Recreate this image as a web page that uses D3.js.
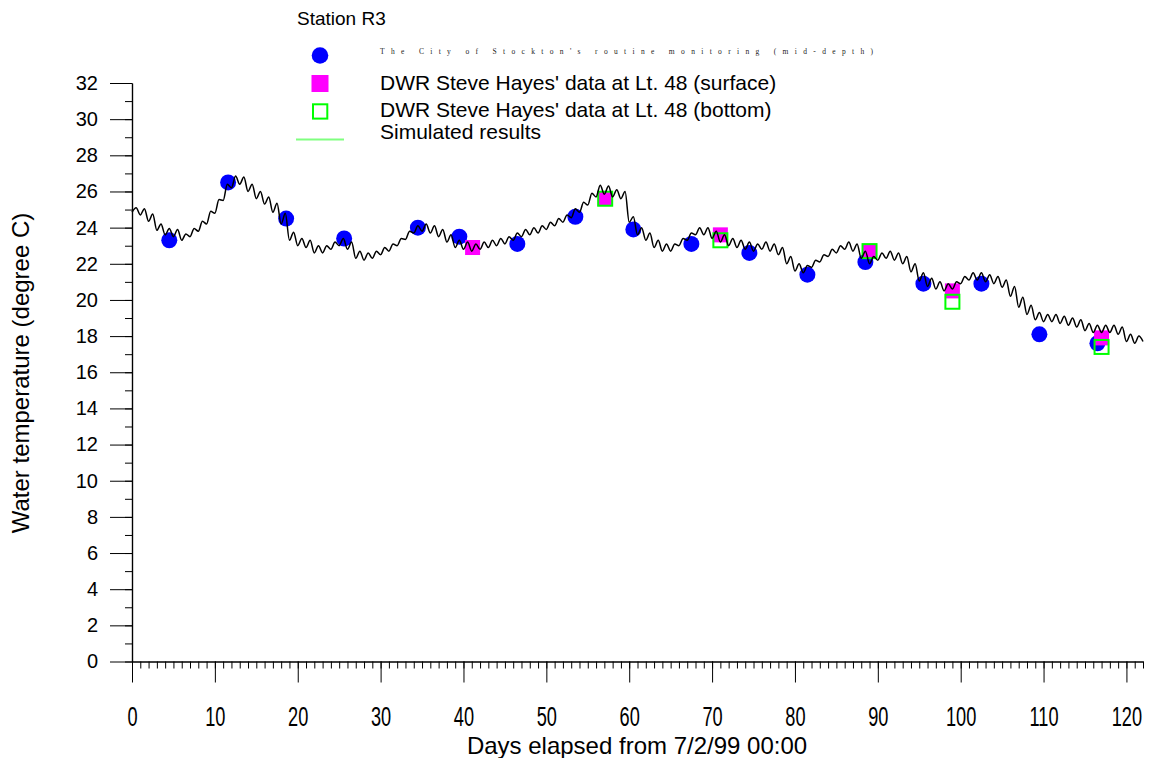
<!DOCTYPE html>
<html>
<head>
<meta charset="utf-8">
<script src="https://cdn.jsdelivr.net/npm/d3@7"></script>
<style>
  html, body { margin: 0; padding: 0; background: #fff; }
  svg { display: block; font-family: "Liberation Sans", Arial, sans-serif; }
</style>
</head>
<body>
<svg id="chart" width="1156" height="758"></svg>
<script>
// Station R3 water temperature, days elapsed from 7/2/99 00:00

// City of Stockton routine monitoring (mid-depth)
const stocktonDays = [4.5, 11.6, 18.6, 25.6, 34.5, 39.5, 46.5, 53.5, 60.5, 67.5, 74.5, 81.5, 88.5, 95.5, 102.5, 109.5, 116.5];
const stocktonTemp = [23.3, 26.5, 24.5, 23.4, 24.0, 23.5, 23.1, 24.6, 23.9, 23.1, 22.6, 21.4, 22.1, 20.9, 20.9, 18.1, 17.6];

// DWR Steve Hayes' data at Lt. 48
const surfaceDays = [41.1, 57.1, 71.0, 89.0, 99.0, 117.0];
const surfaceTemp = [22.9, 25.6, 23.6, 22.7, 20.5, 17.9];
const bottomDays = [57.1, 71.0, 89.0, 99.0, 117.0];
const bottomTemp = [25.6, 23.3, 22.7, 19.9, 17.4];

// Simulated results, sampled every half day from day 0 (daily low, then daily high)
const simStep = 0.5;
const simTemp = [
  24.85, 25.1,  24.7, 25.05,  24.35, 24.75, 23.85, 24.2,  23.6, 23.95,
  23.5, 23.9,   23.3, 23.65,  23.5, 23.95,  23.8, 24.35,  24.2, 24.9,
  24.8, 25.55,  25.5, 26.4,   26.2, 26.85,  26.4, 26.8,   26.0, 26.4,
  25.6, 26.0,   25.3, 25.7,   24.85, 25.35, 24.2, 24.8,   23.3, 23.75,
  23.0, 23.4,   22.9, 23.3,   22.6, 23.0,   22.6, 23.0,   22.8, 23.2,
  23.0, 23.4,   22.8, 23.2,   22.3, 22.7,   22.2, 22.6,   22.3, 22.7,
  22.5, 22.9,   22.7, 23.1,   23.0, 23.4,   23.35, 23.8,  23.7, 24.1,
  23.8, 24.2,   23.7, 24.1,   23.5, 23.9,   23.2, 23.6,   22.9, 23.3,
  22.8, 23.2,   22.7, 23.1,   22.8, 23.2,   22.9, 23.3,   23.0, 23.4,
  23.1, 23.5,   23.3, 23.7,   23.5, 23.9,   23.6, 24.0,   23.7, 24.1,
  23.9, 24.3,   24.1, 24.5,   24.3, 24.7,   24.55, 25.05, 24.85, 25.4,
  25.25, 25.9,  25.7, 26.35,  25.85, 26.3,  25.7, 26.1,   25.6, 26.0,
  24.3, 24.6,   23.6, 24.0,   23.3, 23.7,   22.9, 23.3,   22.7, 23.1,
  22.7, 23.1,   23.0, 23.4,   23.3, 23.7,   23.6, 24.0,   23.6, 24.0,
  23.4, 23.8,   23.2, 23.6,   23.0, 23.4,   22.9, 23.3,   22.8, 23.2,
  22.7, 23.1,   22.8, 23.2,   22.7, 23.1,   22.5, 22.9,   22.0, 22.4,
  21.6, 22.0,   21.5, 21.9,   21.8, 22.2,   22.1, 22.5,   22.4, 22.8,
  22.6, 23.0,   22.8, 23.2,   22.7, 23.1,   22.3, 22.7,   22.0, 22.4,
  22.2, 22.6,   22.3, 22.7,   22.2, 22.6,   22.0, 22.4,   21.55, 22.0,
  21.05, 21.5,  20.75, 21.2,  20.6, 21.0,   20.5, 20.9,   20.6, 21.0,
  20.9, 21.3,   21.1, 21.5,   21.1, 21.5,   21.0, 21.4,   20.9, 21.3,
  20.7, 21.1,   20.2, 20.75,  19.6, 20.15,  19.2, 19.7,   18.9, 19.3,
  18.8, 19.2,   18.8, 19.2,   18.7, 19.1,   18.6, 19.0,   18.5, 18.9,
  18.3, 18.7,   18.2, 18.6,   18.2, 18.6,   18.2, 18.6,   18.1, 18.5,
  17.7, 18.1,   17.6, 18.0,   17.7
];

// Axis ticks
const xMajorTicks = [0, 10, 20, 30, 40, 50, 60, 70, 80, 90, 100, 110, 120];
const yMajorTicks = [0, 2, 4, 6, 8, 10, 12, 14, 16, 18, 20, 22, 24, 26, 28, 30, 32];

// Text
const stationTitle = "Station R3";
const legendLabels = [
  "The City of Stockton's routine monitoring (mid-depth)",
  "DWR Steve Hayes' data at Lt. 48 (surface)",
  "DWR Steve Hayes' data at Lt. 48 (bottom)",
  "Simulated results"
];
const xTitle = "Days elapsed from 7/2/99 00:00";
const yTitle = "Water temperature (degree C)";

const svg = d3.select("#chart");

const x = d3.scaleLinear().domain([0, 122]).range([132, 1143]);
const y = d3.scaleLinear().domain([0, 32]).range([661.5, 83]);

// ---- axes ----
const xMinor = d3.axisBottom(x).tickValues(d3.range(0, 123, 1)).tickSize(7).tickFormat("").tickSizeOuter(0);
const xMajor = d3.axisBottom(x).tickValues(xMajorTicks).tickSize(21).tickPadding(24).tickSizeOuter(0);
const yMinor = d3.axisLeft(y).tickValues(d3.range(0, 33, 1)).tickSize(7).tickFormat("").tickSizeOuter(0);
const yMajor = d3.axisLeft(y).tickValues(yMajorTicks).tickSize(22).tickPadding(12).tickSizeOuter(0);

function styleAxis(g) {
  g.selectAll("path.domain").attr("stroke", "#000").attr("stroke-width", 1.2);
  g.selectAll(".tick line").attr("stroke", "#000").attr("stroke-width", 1);
}

const gx0 = svg.append("g").attr("transform", `translate(0,${y(0)})`).call(xMinor);
styleAxis(gx0);
const gx1 = svg.append("g").attr("transform", `translate(0,${y(0)})`).call(xMajor);
styleAxis(gx1);
gx1.selectAll(".tick text")
  .attr("fill", "#000")
  .attr("font-size", 28)
  .attr("font-family", "Liberation Sans, Arial, sans-serif")
  .attr("transform", "scale(0.65,1)");

const gy0 = svg.append("g").attr("transform", `translate(${x(0)},0)`).call(yMinor);
styleAxis(gy0);
const gy1 = svg.append("g").attr("transform", `translate(${x(0)},0)`).call(yMajor);
styleAxis(gy1);
gy1.selectAll(".tick text")
  .attr("fill", "#000")
  .attr("font-size", 20)
  .attr("font-family", "Liberation Sans, Arial, sans-serif");

// axis titles
svg.append("text")
  .attr("x", 637).attr("y", 754)
  .attr("text-anchor", "middle")
  .attr("font-size", 24)
  .attr("fill", "#000")
  .text(xTitle);

svg.append("text")
  .attr("transform", "translate(29,373) rotate(-90)")
  .attr("text-anchor", "middle")
  .attr("font-size", 24)
  .attr("fill", "#000")
  .text(yTitle);

// ---- data marks ----
const plot = svg.append("g");

plot.selectAll("circle.stockton")
  .data(stocktonDays.map((d, i) => ({ d, t: stocktonTemp[i] })))
  .join("circle")
  .attr("class", "stockton")
  .attr("cx", p => x(p.d))
  .attr("cy", p => y(p.t))
  .attr("r", 8)
  .attr("fill", "#0000ff");

const sq = 15;
plot.selectAll("rect.surface")
  .data(surfaceDays.map((d, i) => ({ d, t: surfaceTemp[i] })))
  .join("rect")
  .attr("class", "surface")
  .attr("x", p => x(p.d) - sq / 2)
  .attr("y", p => y(p.t) - sq / 2)
  .attr("width", sq).attr("height", sq)
  .attr("fill", "#ff00ff");

plot.selectAll("rect.bottom")
  .data(bottomDays.map((d, i) => ({ d, t: bottomTemp[i] })))
  .join("rect")
  .attr("class", "bottom")
  .attr("x", p => x(p.d) - 7)
  .attr("y", p => y(p.t) - 7)
  .attr("width", 14).attr("height", 14)
  .attr("fill", "none")
  .attr("stroke", "#00ff00")
  .attr("stroke-width", 2);

const simLine = d3.line()
  .x((t, i) => x(i * simStep))
  .y(t => y(t))
  .curve(d3.curveMonotoneX);

plot.append("path")
  .datum(simTemp)
  .attr("d", simLine)
  .attr("fill", "none")
  .attr("stroke", "#000")
  .attr("stroke-width", 1.5)
  .attr("stroke-linejoin", "round");

// ---- legend ----
const legend = svg.append("g");
legend.append("text")
  .attr("x", 297).attr("y", 25)
  .attr("font-size", 19).attr("fill", "#000")
  .text(stationTitle);

legend.append("circle").attr("cx", 320).attr("cy", 55.5).attr("r", 8.3).attr("fill", "#0000ff");
legend.append("rect").attr("x", 311.5).attr("y", 75).attr("width", 17).attr("height", 17).attr("fill", "#ff00ff");
legend.append("rect").attr("x", 313).attr("y", 104.3).attr("width", 14.3).attr("height", 14.3)
  .attr("fill", "none").attr("stroke", "#00ff00").attr("stroke-width", 2);
legend.append("line").attr("x1", 296).attr("x2", 344).attr("y1", 139.5).attr("y2", 139.5)
  .attr("stroke", "#80ff80").attr("stroke-width", 2);

legend.append("text")
  .attr("x", 380).attr("y", 54)
  .attr("font-family", "Liberation Serif, serif")
  .attr("font-size", 7.5)
  .attr("fill", "#222")
  .attr("textLength", 493)
  .attr("lengthAdjust", "spacing")
  .text(legendLabels[0]);

[[legendLabels[1], 90], [legendLabels[2], 117], [legendLabels[3], 139]].forEach(([label, by]) => {
  legend.append("text")
    .attr("x", 380).attr("y", by)
    .attr("font-size", 21).attr("fill", "#000")
    .text(label);
});
</script>
</body>
</html>
